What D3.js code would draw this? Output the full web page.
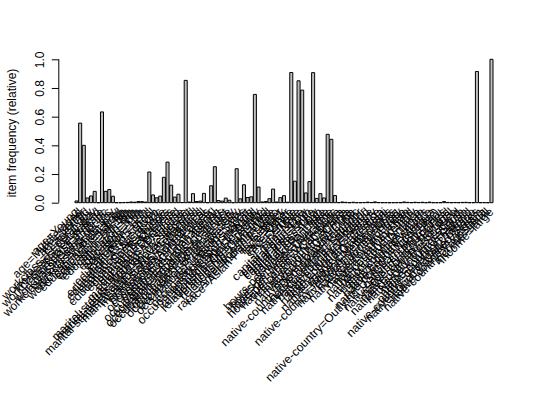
<!DOCTYPE html>
<html><head><meta charset="utf-8">
<script src="https://cdn.jsdelivr.net/npm/d3@7"></script>
<style>html,body{margin:0;padding:0;background:#fff;}</style>
</head><body>
<script>
const items = [
"age=Young","age=Middle-aged","age=Senior","age=Old",
"workclass=Federal-gov","workclass=Local-gov","workclass=Never-worked","workclass=Private","workclass=Self-emp-inc","workclass=Self-emp-not-inc","workclass=State-gov","workclass=Without-pay",
"education=Preschool","education=1st-4th","education=5th-6th","education=7th-8th","education=9th","education=10th","education=11th","education=12th","education=HS-grad","education=Prof-school","education=Assoc-acdm","education=Assoc-voc","education=Some-college","education=Bachelors","education=Masters","education=Doctorate",
"marital-status=Divorced","marital-status=Married-AF-spouse","marital-status=Married-civ-spouse","marital-status=Married-spouse-absent","marital-status=Never-married","marital-status=Separated","marital-status=Widowed",
"occupation=Adm-clerical","occupation=Armed-Forces","occupation=Craft-repair","occupation=Exec-managerial","occupation=Farming-fishing","occupation=Handlers-cleaners","occupation=Machine-op-inspct","occupation=Other-service","occupation=Priv-house-serv","occupation=Prof-specialty","occupation=Protective-serv","occupation=Sales","occupation=Tech-support","occupation=Transport-moving",
"relationship=Husband","relationship=Not-in-family","relationship=Other-relative","relationship=Own-child","relationship=Unmarried","relationship=Wife",
"race=Amer-Indian-Eskimo","race=Asian-Pac-Islander","race=Black","race=Other","race=White",
"sex=Female","sex=Male",
"capital-gain=None","capital-gain=Low","capital-gain=High",
"capital-loss=None","capital-loss=Low","capital-loss=High",
"hours-per-week=Part-time","hours-per-week=Full-time","hours-per-week=Over-time","hours-per-week=Workaholic",
"native-country=Cambodia","native-country=Canada","native-country=China","native-country=Columbia","native-country=Cuba","native-country=Dominican-Republic","native-country=Ecuador","native-country=El-Salvador","native-country=England","native-country=France","native-country=Germany","native-country=Greece","native-country=Guatemala","native-country=Haiti","native-country=Holand-Netherlands","native-country=Honduras","native-country=Hong","native-country=Hungary","native-country=India","native-country=Iran","native-country=Ireland","native-country=Italy","native-country=Jamaica","native-country=Japan","native-country=Laos","native-country=Mexico","native-country=Nicaragua","native-country=Outlying-US(Guam-USVI-etc)","native-country=Peru","native-country=Philippines","native-country=Poland","native-country=Portugal","native-country=Puerto-Rico","native-country=Scotland","native-country=South","native-country=Taiwan","native-country=Thailand","native-country=Trinadad&Tobago","native-country=United-States","native-country=Vietnam","native-country=Yugoslavia",
"income=small","income=large"];

const frequency = [
0.012,0.555,0.400,0.033,
0.047,0.079,0,0.633,0.079,0.092,0.045,0.0003,
0,0.0008,0.002,0.005,0.0034,0.0079,0.0077,0.0042,0.214,0.054,0.034,0.046,0.177,0.283,0.122,0.039,
0.059,0.0013,0.853,0.0043,0.063,0.0084,0.011,
0.065,0.0001,0.118,0.251,0.015,0.011,0.032,0.017,0.0001,0.237,0.027,0.125,0.036,0.041,
0.755,0.109,0.005,0.0085,0.028,0.095,
0.0046,0.035,0.049,0.0032,0.908,
0.150,0.850,
0.785,0.068,0.147,
0.907,0.030,0.063,
0.033,0.477,0.442,0.050,
0.0009,0.005,0.0026,0.0003,0.0032,0.0003,0.0005,0.0011,0.0038,0.0015,0.0056,0.001,0.0004,0.0005,0,0.0001,0.0008,0.0004,0.0051,0.0023,0.0006,0.0032,0.0013,0.0031,0.0003,0.0042,0.0003,0,0.0003,0.0078,0.0015,0.0005,0.0015,0.0004,0.002,0.0026,0.0004,0.0003,0.915,0.0006,0.0008,
0,1.0];

const yTicks = [0,0.2,0.4,0.6,0.8,1.0];
const yLabels = ["0.0","0.2","0.4","0.6","0.8","1.0"];
const yTitle = "item frequency (relative)";

const W = 540, H = 400;
const font = "'Liberation Sans', Arial, Helvetica, sans-serif";
const svg = d3.select("body").append("svg").attr("width", W).attr("height", H)
  .style("font-family", font);

// R barplot geometry: usr x from -5.312 to 143.512 over plot region
const xu = d3.scaleLinear().domain([-5.312, 143.512]).range([58.28, 509.72]);
const x = d3.scaleBand().domain(items).range([xu(0), xu(138.2)])
  .paddingInner(1/6).paddingOuter(1/6);
const y = d3.scaleLinear().domain([0, 1]).range([202.7, 59.3]);

// bars (paths so that zero-height bars still draw a line)
svg.append("g").selectAll("path").data(items).join("path")
  .attr("d", (d, i) => {
    const x0 = x(d), x1 = x(d) + x.bandwidth();
    const y0 = y(0), y1 = y(frequency[i]);
    return `M${x0},${y0}H${x1}V${y1}H${x0}Z`;
  })
  .attr("fill", "#BEBEBE").attr("stroke", "#000").attr("stroke-width", 1);

// y axis
const yAxis = d3.axisLeft(y).tickValues(yTicks).tickSize(7).tickFormat((d, i) => yLabels[i]);
const ga = svg.append("g").attr("transform", "translate(58.8,0)").call(yAxis);
ga.select(".domain").attr("d", `M-0,${y(0)}V${y(1)}`).attr("stroke", "#000");
ga.selectAll(".tick line").attr("stroke", "#000");
ga.selectAll(".tick text")
  .attr("font-size", 12).attr("font-family", font).attr("fill", "#000")
  .attr("x", null).attr("dy", null)
  .attr("text-anchor", "middle")
  .attr("transform", "translate(-15.3,0) rotate(-90)");

// y title
svg.append("text")
  .attr("transform", `translate(15.5,${(y(0)+y(1))/2 + 2}) rotate(-90)`)
  .attr("text-anchor", "middle").attr("font-size", 12).attr("fill", "#000")
  .text(yTitle);

// rotated item labels
svg.append("g").selectAll("text").data(items).join("text")
  .attr("transform", d => `translate(${x(d) + x.bandwidth()/2},210) rotate(-45)`)
  .attr("text-anchor", "end").attr("dominant-baseline", "central")
  .attr("font-size", 12).attr("fill", "#000")
  .text(d => d);
</script>
</body></html>
